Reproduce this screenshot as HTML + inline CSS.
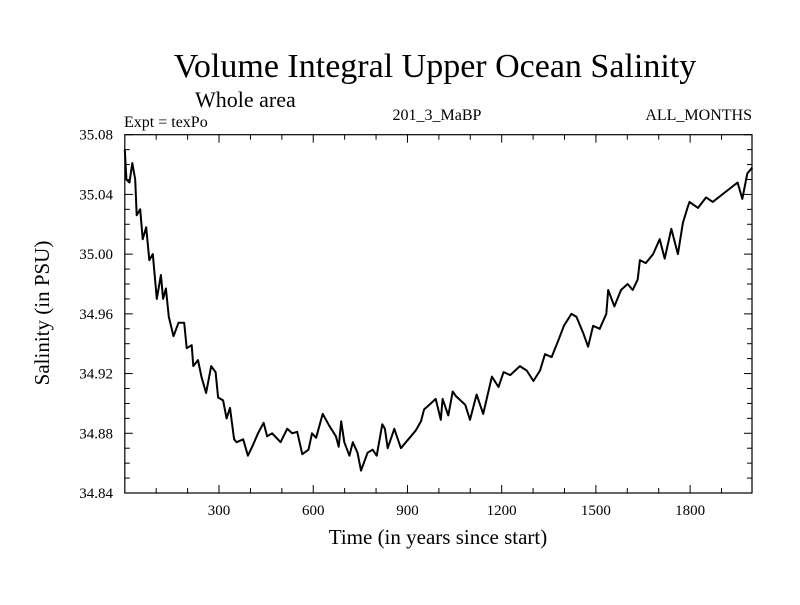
<!DOCTYPE html>
<html><head><meta charset="utf-8"><style>
body{margin:0;background:#fff}
svg text{font-family:"Liberation Serif",serif;fill:#000}
</style></head><body>
<svg id="chart" width="800" height="600">
<text x="435" y="77" font-size="34" text-anchor="middle">Volume Integral Upper Ocean Salinity</text>
<text x="195" y="107" font-size="22">Whole area</text>
<text x="124" y="127" font-size="16">Expt = texPo</text>
<text x="437" y="120" font-size="16" text-anchor="middle">201_3_MaBP</text>
<text x="752" y="120" font-size="16" text-anchor="end">ALL_MONTHS</text>
<text x="438" y="544" font-size="21" text-anchor="middle">Time (in years since start)</text>
<text transform="translate(49,313) rotate(-90)" font-size="21" text-anchor="middle">Salinity (in PSU)</text>
<g id="ticks"></g>
<g id="plot"></g>
<rect x="124.8" y="134.7" width="627.2" height="358.3" fill="none" stroke="#000" stroke-width="1.2"/>
</svg>
<script>
const years=[0,5,15,24,33,38,49,57,68,78,89,102,115,122,131,140,155,171,189,197,213,218,233,244,259,275,289,297,313,324,335,348,356,377,392,408,424,442,453,469,496,517,533,549,565,585,596,609,630,651,672,681,689,699,715,726,741,752,773,789,802,820,828,837,858,879,895,911,927,943,953,964,990,1006,1012,1030,1044,1054,1084,1099,1120,1141,1169,1190,1206,1227,1258,1280,1301,1322,1338,1359,1380,1398,1422,1438,1460,1475,1491,1512,1533,1539,1559,1580,1601,1617,1633,1640,1659,1682,1703,1719,1740,1761,1777,1793,1798,1825,1851,1872,1951,1966,1982,1998];
const vals=[35.070,35.050,35.048,35.061,35.050,35.026,35.030,35.010,35.018,34.996,35.000,34.970,34.986,34.970,34.977,34.958,34.945,34.954,34.954,34.937,34.939,34.925,34.929,34.918,34.907,34.925,34.921,34.904,34.902,34.890,34.897,34.876,34.874,34.876,34.865,34.872,34.880,34.887,34.878,34.880,34.874,34.883,34.880,34.881,34.866,34.869,34.880,34.877,34.893,34.885,34.878,34.871,34.888,34.874,34.865,34.874,34.867,34.855,34.867,34.869,34.865,34.886,34.883,34.870,34.883,34.870,34.874,34.878,34.882,34.888,34.896,34.898,34.903,34.889,34.903,34.892,34.908,34.905,34.899,34.889,34.906,34.893,34.918,34.911,34.921,34.919,34.925,34.922,34.915,34.922,34.933,34.931,34.942,34.952,34.960,34.958,34.947,34.938,34.952,34.950,34.960,34.976,34.965,34.976,34.980,34.976,34.983,34.996,34.994,35.000,35.010,34.997,35.017,35.000,35.021,35.032,35.035,35.031,35.038,35.035,35.048,35.037,35.054,35.058,35.065,35.079,35.075,35.058,35.070];
const xTicks=[300,600,900,1200,1500,1800];
const yTicks=[34.84,34.88,34.92,34.96,35.00,35.04,35.08];
const X0=124.8,X1=752,Y0=493,Y1=134.7,XMIN=0,XMAX=1997,YMIN=34.84,YMAX=35.08;
const sx=v=>X0+(v-XMIN)/(XMAX-XMIN)*(X1-X0);
const sy=v=>Y0-(v-YMIN)/(YMAX-YMIN)*(Y0-Y1);
const NS='http://www.w3.org/2000/svg';
const tg=document.getElementById('ticks'),pg=document.getElementById('plot');
function ln(x1,y1,x2,y2,name){const l=document.createElementNS(NS,'line');l.setAttribute('x1',x1);l.setAttribute('y1',y1);l.setAttribute('x2',x2);l.setAttribute('y2',y2);l.setAttribute('stroke','#000');l.setAttribute('stroke-width','1');


tg.appendChild(l);}
for(let t=100;t<XMAX;t+=100){const x=sx(t),L=(t%300===0)?8:5;ln(x,Y0,x,Y0-L,'x-tick');ln(x,Y1,x,Y1+L,'x-tick-top');}
for(let i=0;i<=24;i++){const v=YMIN+i*0.01,y=sy(v),L=(i%4===0)?8:5;ln(X0,y,X0+L,y,'y-tick');ln(X1,y,X1-L,y,'y-tick-right');}
xTicks.forEach(t=>{const e=document.createElementNS(NS,'text');e.setAttribute('x',sx(t));e.setAttribute('y',515);e.setAttribute('font-size','15');e.setAttribute('text-anchor','middle');e.textContent=t;


tg.appendChild(e);});
yTicks.forEach(v=>{const e=document.createElementNS(NS,'text');e.setAttribute('x',113);e.setAttribute('y',sy(v)+5);e.setAttribute('font-size','15');e.setAttribute('text-anchor','end');e.textContent=v.toFixed(2);


tg.appendChild(e);});
const p=document.createElementNS(NS,'polyline');
p.setAttribute('points',years.map((y,i)=>sx(y).toFixed(1)+','+sy(vals[i]).toFixed(1)).join(' '));
p.setAttribute('fill','none');p.setAttribute('stroke','#000');p.setAttribute('stroke-width','2');p.setAttribute('stroke-linejoin','round');


pg.appendChild(p);
</script>
</body></html>
